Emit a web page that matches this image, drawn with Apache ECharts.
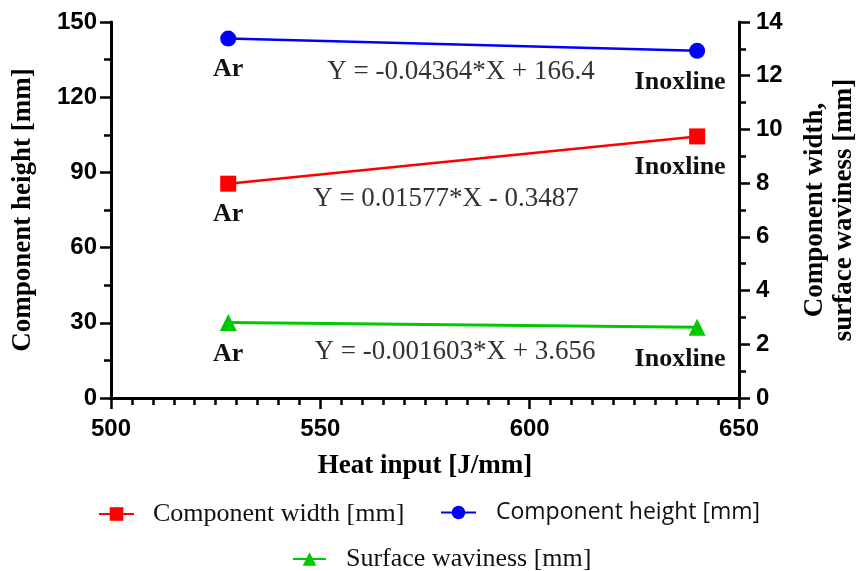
<!DOCTYPE html>
<html><head><meta charset="utf-8">
<script src="https://cdn.jsdelivr.net/npm/echarts@6/dist/echarts.min.js"></script>
<style>html,body{margin:0;padding:0;background:#fff}#c{width:857px;height:571px}</style>
</head><body><div id="c"></div>
<script>
var heatInput = [528, 640];
var pointLabels = ['Ar', 'Inoxline'];
var componentHeight = [143.4, 138.5];   // left axis
var componentWidth = [7.98, 9.74];      // right axis
var surfaceWaviness = [2.81, 2.63];     // right axis
var equations = ['Y = -0.04364*X + 166.4', 'Y = 0.01577*X - 0.3487', 'Y = -0.001603*X + 3.656'];

function pts(vals){ return heatInput.map(function(x,i){ return {value:[x, vals[i]], name: pointLabels[i]}; }); }

var serif = '"Liberation Serif", "Times New Roman", serif';
var sans = '"Liberation Sans", Arial, sans-serif';

var chart = echarts.init(document.getElementById('c'), null, {renderer:'canvas'});
var axisLine = {show:true, lineStyle:{color:'#000', width:3}};
var tickStyle = {color:'#000', width:2.5};
var lblFont = {color:'#000', fontFamily:sans, fontWeight:'bold', fontSize:24};
var titleFont = {fontFamily:serif, fontWeight:'bold', fontSize:27, color:'#000'};

function ptLabel(){
  return {show:true, position:'bottom', fontFamily:serif, fontWeight:'bold', fontSize:26, color:'#111',
    formatter:function(p){return p.name;}, distance:10};
}
function withOffsets(arr, offs){
  return arr.map(function(d,i){ d.label = {offset: offs[i]}; return d; });
}

chart.setOption({
  animation:false,
  grid:{left:111, right:118, top:22, bottom:173, containLabel:false, outerBoundsMode:'none'},
  xAxis:[{
    type:'value', min:500, max:650, interval:50,
    axisLine:axisLine, axisTick:{show:true, length:11, lineStyle:tickStyle},
    minorTick:{show:true, splitNumber:10, length:7, lineStyle:tickStyle},
    splitLine:{show:false},
    axisLabel:Object.assign({margin:19}, lblFont),
    name:'Heat input [J/mm]', nameLocation:'middle', nameGap:55,
    nameTextStyle:titleFont
  },{
    type:'value', position:'top', min:500, max:650,
    axisLine:axisLine, axisTick:{show:false}, axisLabel:{show:false}, splitLine:{show:false}
  }],
  yAxis:[{
    type:'value', min:0, max:150, interval:30, position:'left',
    axisLine:axisLine, axisTick:{show:true, length:11, lineStyle:tickStyle},
    minorTick:{show:true, splitNumber:2, length:7, lineStyle:tickStyle},
    splitLine:{show:false},
    axisLabel:Object.assign({margin:14}, lblFont),
    name:'Component height [mm]', nameLocation:'middle', nameGap:74,
    nameTextStyle:titleFont
  },{
    type:'value', min:0, max:14, interval:2, position:'right',
    axisLine:axisLine, axisTick:{show:true, length:11, lineStyle:tickStyle},
    minorTick:{show:true, splitNumber:2, length:7, lineStyle:tickStyle},
    splitLine:{show:false},
    axisLabel:Object.assign({margin:17}, lblFont),
    name:'Component width,\nsurface waviness [mm]', nameLocation:'middle', nameGap:62,
    nameTextStyle:Object.assign({lineHeight:29}, titleFont)
  }],
  legend:[{
    data:['Component width [mm]'], left:98, top:501, padding:0, itemWidth:35, itemHeight:17,
    textStyle:{fontFamily:serif, fontSize:26, color:'#111', padding:[0,0,0,14]}
  },{
    data:['Component height [mm]'], left:440, top:501, padding:0, itemWidth:35, itemHeight:17,
    textStyle:{fontFamily:'"Open Sans", "Noto Sans", sans-serif', fontSize:23, color:'#111', padding:[0,0,0,15]}
  },{
    data:['Surface waviness [mm]'], left:292, top:546, padding:0, itemWidth:33, itemHeight:17,
    textStyle:{fontFamily:serif, fontSize:26, color:'#111', padding:[0,0,0,15]}
  }],
  series:[{
    name:'Component width [mm]', type:'line', yAxisIndex:1,
    data:withOffsets(pts(componentWidth), [[0,0],[-17,0]]),
    symbol:'rect', symbolSize:16, color:'#ff0000', lineStyle:{width:2.5},
    label:ptLabel()
  },{
    name:'Component height [mm]', type:'line', yAxisIndex:0,
    data:withOffsets(pts(componentHeight), [[0,0],[-17,0]]),
    symbol:'circle', symbolSize:16, color:'#0000ff', lineStyle:{width:2.5},
    label:ptLabel()
  },{
    name:'Surface waviness [mm]', type:'line', yAxisIndex:1,
    data:withOffsets(pts(surfaceWaviness), [[0,0],[-17,0]]),
    symbol:'triangle', symbolSize:17, color:'#00c800', lineStyle:{width:3},
    label:ptLabel()
  }],
  graphic:[
    {type:'text', style:{text:equations[0], x:461, y:72, align:'center', verticalAlign:'middle', font:'27px '+serif, fill:'#333'}},
    {type:'text', style:{text:equations[1], x:446, y:199, align:'center', verticalAlign:'middle', font:'27px '+serif, fill:'#333'}},
    {type:'text', style:{text:equations[2], x:455, y:352, align:'center', verticalAlign:'middle', font:'27px '+serif, fill:'#333'}}
  ]
});
</script></body></html>
